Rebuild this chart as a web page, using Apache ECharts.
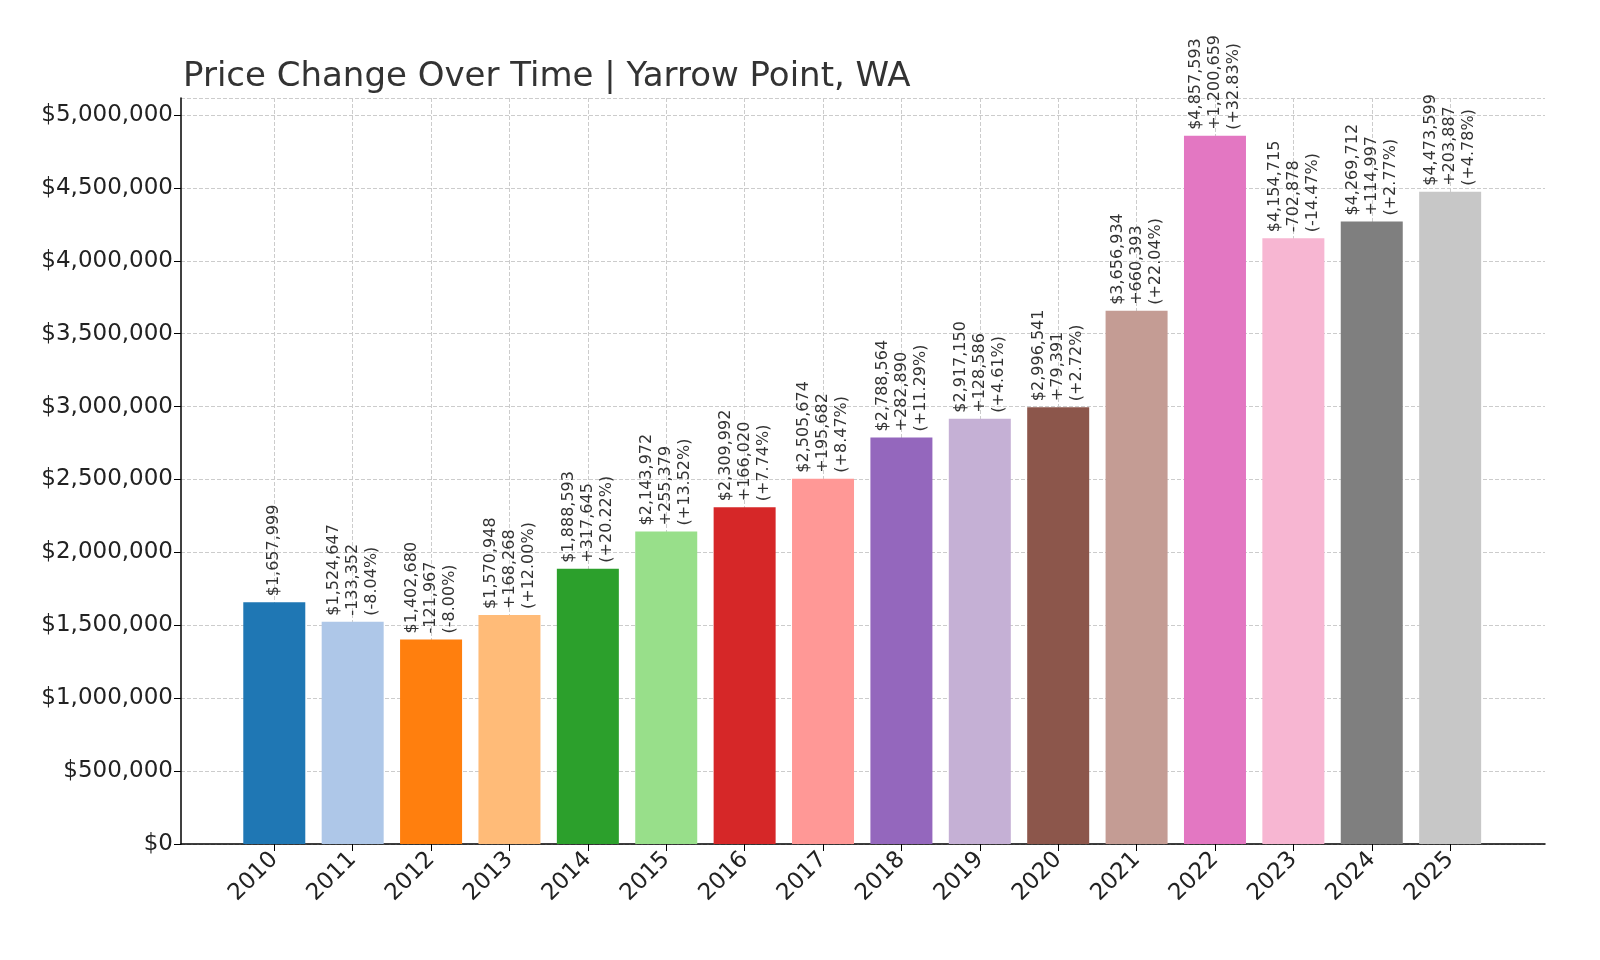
<!DOCTYPE html>
<html><head><meta charset="utf-8">
<script src="https://cdn.jsdelivr.net/npm/echarts@6/dist/echarts.min.js"></script>
<style>html,body{margin:0;background:#fff}#c{width:1600px;height:960px}</style>
</head><body><div id="c"></div>
<script>
const years = [2010,2011,2012,2013,2014,2015,2016,2017,2018,2019,2020,2021,2022,2023,2024,2025];
const values = [1657999,1524647,1402680,1570948,1888593,2143972,2309992,2505674,2788564,2917150,2996541,3656934,4857593,4154715,4269712,4473599];
const changes = [null,"-133,352","-121,967","+168,268","+317,645","+255,379","+166,020","+195,682","+282,890","+128,586","+79,391","+660,393","+1,200,659","-702,878","+114,997","+203,887"];
const pcts = [null,"(-8.04%)","(-8.00%)","(+12.00%)","(+20.22%)","(+13.52%)","(+7.74%)","(+8.47%)","(+11.29%)","(+4.61%)","(+2.72%)","(+22.04%)","(+32.83%)","(-14.47%)","(+2.77%)","(+4.78%)"];
const colors = ['#1f77b4','#aec7e8','#ff7f0e','#ffbb78','#2ca02c','#98df8a','#d62728','#ff9896','#9467bd','#c5b0d5','#8c564b','#c49c94','#e377c2','#f7b6d2','#7f7f7f','#c7c7c7'];
const fmt = v => '$' + v.toLocaleString('en-US');
const chart = echarts.init(document.getElementById('c'));
chart.setOption({
  backgroundColor:'#fff',
  title:{text:'Price Change Over Time | Yarrow Point, WA',left:178,top:55,textStyle:{fontSize:34,fontWeight:'normal',color:'#333',fontFamily:'DejaVu Sans'}},
  grid:{left:181,right:55,top:98,bottom:116},
  xAxis:{type:'value',min:2008.81,max:2026.21,
    axisLine:{lineStyle:{color:'#000',width:1.5}},
    axisTick:{customValues:years,length:7,lineStyle:{color:'#000'}},
    axisLabel:{customValues:years,rotate:45,fontSize:23,color:'#222',margin:12,fontFamily:'DejaVu Sans',formatter:v=>String(Math.round(v))},
    splitLine:{show:true,customValues:years,lineStyle:{type:'dashed',color:'#ccc'}}},
  yAxis:{type:'value',min:0,max:5117000,interval:500000,
    axisLine:{show:true,lineStyle:{color:'#000',width:1.5}},
    axisTick:{show:true,length:7,lineStyle:{color:'#000'}},
    axisLabel:{fontSize:23,color:'#222',fontFamily:'DejaVu Sans',showMaxLabel:false,formatter:v=>fmt(v)},
    splitLine:{show:true,lineStyle:{type:'dashed',color:'#ccc'}}},
  series:[{type:'bar',barWidth:62,
    data:years.map((y,i)=>({value:[y,values[i]],itemStyle:{color:colors[i]}})),
    label:{show:true,position:'top',rotate:90,align:'left',verticalAlign:'middle',distance:6,
      fontSize:16,lineHeight:19,color:'#333',fontFamily:'DejaVu Sans',
      formatter:p=>{const i=p.dataIndex;return changes[i]?fmt(values[i])+'\n'+changes[i]+'\n'+pcts[i]:fmt(values[i]);}}}]
});
</script></body></html>
